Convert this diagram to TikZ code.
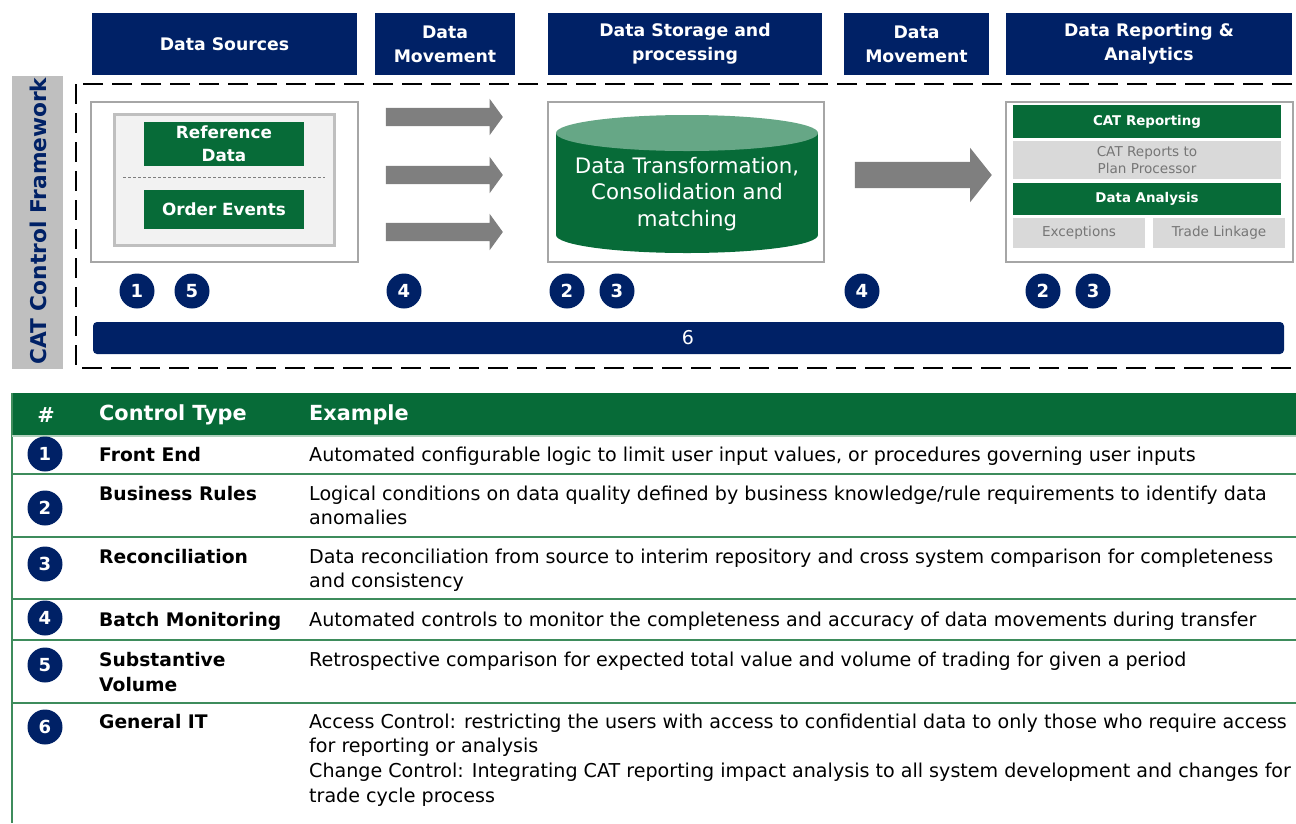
\documentclass[tikz,border=0pt]{standalone}
\usepackage{fontspec}
\setmainfont{DejaVu Sans}
\usetikzlibrary{shapes.arrows}
\definecolor{navy}{RGB}{0,33,102}
\definecolor{catgreen}{RGB}{7,107,56}
\definecolor{lidgreen}{RGB}{102,167,134}
\definecolor{rulegreen}{RGB}{62,140,92}
\definecolor{boxgray}{RGB}{166,166,166}
\definecolor{bargray}{RGB}{191,191,191}
\definecolor{cellgray}{RGB}{217,217,217}
\definecolor{textgray}{RGB}{118,118,118}
\definecolor{arrowgray}{RGB}{127,127,127}
\tikzset{
hdr/.style={fill=navy, text=white, inner sep=0, align=center,
    minimum height=62, font=\bfseries\fontsize{17.3}{24}\selectfont},
gbox/.style={fill=catgreen, text=white, inner sep=0, align=center,
    font=\bfseries\fontsize{16.8}{23}\selectfont},
cbox/.style={fill=cellgray, text=textgray, inner sep=0, align=center,
    font=\fontsize{13.6}{17}\selectfont},
num/.style={circle, fill=navy, text=white, inner sep=0, minimum size=35,
    font=\bfseries\fontsize{18}{18}\selectfont},
blockarrow/.style={single arrow, fill=arrowgray, inner xsep=0,
    single arrow head indent=0},
ctype/.style={anchor=base west, inner sep=0, align=left,
    font=\bfseries\fontsize{18.7}{25}\selectfont},
example/.style={anchor=base west, inner sep=0, align=left,
    font=\fontsize{19.1}{24.7}\selectfont}
}

\begin{document}
\begin{tikzpicture}[x=1pt, y=-1pt]
	\useasboundingbox (0,0) rectangle (1296,823);
	\node[hdr, minimum width=265] (hsrc) at (224.5,44) {Data Sources};
	\node[hdr, minimum width=140] (hmov) at (445,44) {Data\\Movement};
	\node[hdr, minimum width=274] (hsto) at (685,44) {Data Storage and\\processing};
	\node[hdr, minimum width=145] (hmov2) at (916.5,44) {Data\\Movement};
	\node[hdr, minimum width=286] (hrep) at (1149,44) {Data Reporting \&\\Analytics};

	\fill[bargray] (12,76) rectangle (63,369);
	\node[rotate=90, text=navy, font=\bfseries\fontsize{21.7}{21.7}\selectfont] (frame) at (38,221) {CAT Control Framework};
	\draw[line width=2.6, dash pattern=on 20 off 9] (76,84) rectangle (1299,368);

	\draw[boxgray, line width=2, fill=white] (91,102) rectangle (358,262);
	\draw[bargray, line width=3, fill=black!5] (114,114) rectangle (334,245);
	\node[gbox, minimum width=160, minimum height=44] (ref) at (224,144) {Reference\\Data};
	\draw[arrowgray, dash pattern=on 3 off 2] (123,177) -- (325,177);
	\node[gbox, minimum width=160, minimum height=39] (ord) at (224,209.5) {Order Events};

	\node[blockarrow, minimum height=117, inner ysep=9, single arrow head extend=9,
	    single arrow tip angle=108] (a1) at (441,117) {};
	\node[blockarrow, minimum height=117, inner ysep=9, single arrow head extend=9,
	    single arrow tip angle=108] (a2) at (441,175) {};
	\node[blockarrow, minimum height=117, inner ysep=9, single arrow head extend=9,
	    single arrow tip angle=108] (a3) at (441,232) {};

	\draw[boxgray, line width=2] (548,102) rectangle (824,262);
	\fill[catgreen] (687,235) ellipse (131 and 18);
	\fill[catgreen] (556,133) rectangle (818,235);
	\fill[lidgreen] (687,133) ellipse (131 and 18);
	\node[text=white, align=center, font=\fontsize{21.3}{26.5}\selectfont] (store) at (687,194)
	    {Data Transformation,\\Consolidation and\\matching};

	\node[blockarrow, minimum height=137, inner ysep=13, single arrow head extend=14,
	    single arrow tip angle=103] (a4) at (918,175) {};

	\draw[boxgray, line width=2] (1006,102) rectangle (1293,262);
	\node[gbox, minimum width=268, minimum height=33, font=\bfseries\fontsize{13.4}{17}\selectfont] (catrep) at (1147,121.5) {CAT Reporting};
	\node[cbox, minimum width=268, minimum height=38] (toproc) at (1147,160) {CAT Reports to\\Plan Processor};
	\node[gbox, minimum width=268, minimum height=32, font=\bfseries\fontsize{13.4}{17}\selectfont] (anal) at (1147,199) {Data Analysis};
	\node[cbox, minimum width=132, minimum height=30] (exc) at (1079,233) {Exceptions};
	\node[cbox, minimum width=132, minimum height=30] (link) at (1219,233) {Trade Linkage};

	\node[num] (t1) at (137,291) {1};
	\node[num] (t5) at (192,291) {5};
	\node[num] (t4a) at (404,291) {4};
	\node[num] (t2a) at (567,291) {2};
	\node[num] (t3a) at (617,291) {3};
	\node[num] (t4b) at (862,291) {4};
	\node[num] (t2b) at (1043,291) {2};
	\node[num] (t3b) at (1093,291) {3};
	\fill[navy, rounded corners=4] (93,322) rectangle (1284,354);
	\node[text=white, font=\fontsize{19}{19}\selectfont] (gen) at (688,338) {6};

	\fill[catgreen] (12,393) rectangle (1296,435);
	\node[text=white, font=\bfseries\fontsize{20.8}{20.8}\selectfont] (hnum) at (46,415) {\#};
	\node[text=white, anchor=west, inner sep=0, font=\bfseries\fontsize{20.8}{20.8}\selectfont] (htype) at (99,415) {Control Type};
	\node[text=white, anchor=west, inner sep=0, font=\bfseries\fontsize{20.8}{20.8}\selectfont] (hex) at (309,415) {Example};
	\draw[rulegreen, line width=1.5] (12,393) -- (12,823);
	\draw[rulegreen!40, line width=1.5] (12,436) -- (1296,436);
	\draw[rulegreen, line width=1.5] (12,474) -- (1296,474);
	\draw[rulegreen, line width=1.5] (12,537) -- (1296,537);
	\draw[rulegreen, line width=1.5] (12,599) -- (1296,599);
	\draw[rulegreen, line width=1.5] (12,640) -- (1296,640);
	\draw[rulegreen, line width=1.5] (12,703) -- (1296,703);

	\node[num] (r1) at (45,454) {1};
	\node[ctype] (k1) at (99,461) {Front End};
	\node[example] (e1) at (309,461) {Automated configurable logic to limit user input values, or procedures governing user inputs};
	\node[num] (r2) at (45,508) {2};
	\node[ctype] (k2) at (99,500) {Business Rules};
	\node[example] (e2) at (309,524.7) {Logical conditions on data quality defined by business knowledge/rule requirements to identify data\\anomalies};
	\node[num] (r3) at (45,564) {3};
	\node[ctype] (k3) at (99,563) {Reconciliation};
	\node[example] (e3) at (309,587.7) {Data reconciliation from source to interim repository and cross system comparison for completeness\\and consistency};
	\node[num] (r4) at (45,618) {4};
	\node[ctype] (k4) at (99,626) {Batch Monitoring};
	\node[example] (e4) at (309,626) {Automated controls to monitor the completeness and accuracy of data movements during transfer};
	\node[num] (r5) at (45,665) {5};
	\node[ctype] (k5) at (99,691) {Substantive\\Volume};
	\node[example] (e5) at (309,666) {Retrospective comparison for expected total value and volume of trading for given a period};
	\node[num] (r6) at (45,727) {6};
	\node[ctype] (k6) at (99,728) {General IT};
	\node[example] (e6) at (309,802.1) {Access Control: restricting the users with access to confidential data to only those who require access\\for reporting or analysis\\Change Control: Integrating CAT reporting impact analysis to all system development and changes for\\trade cycle process};
\end{tikzpicture}
\end{document}
